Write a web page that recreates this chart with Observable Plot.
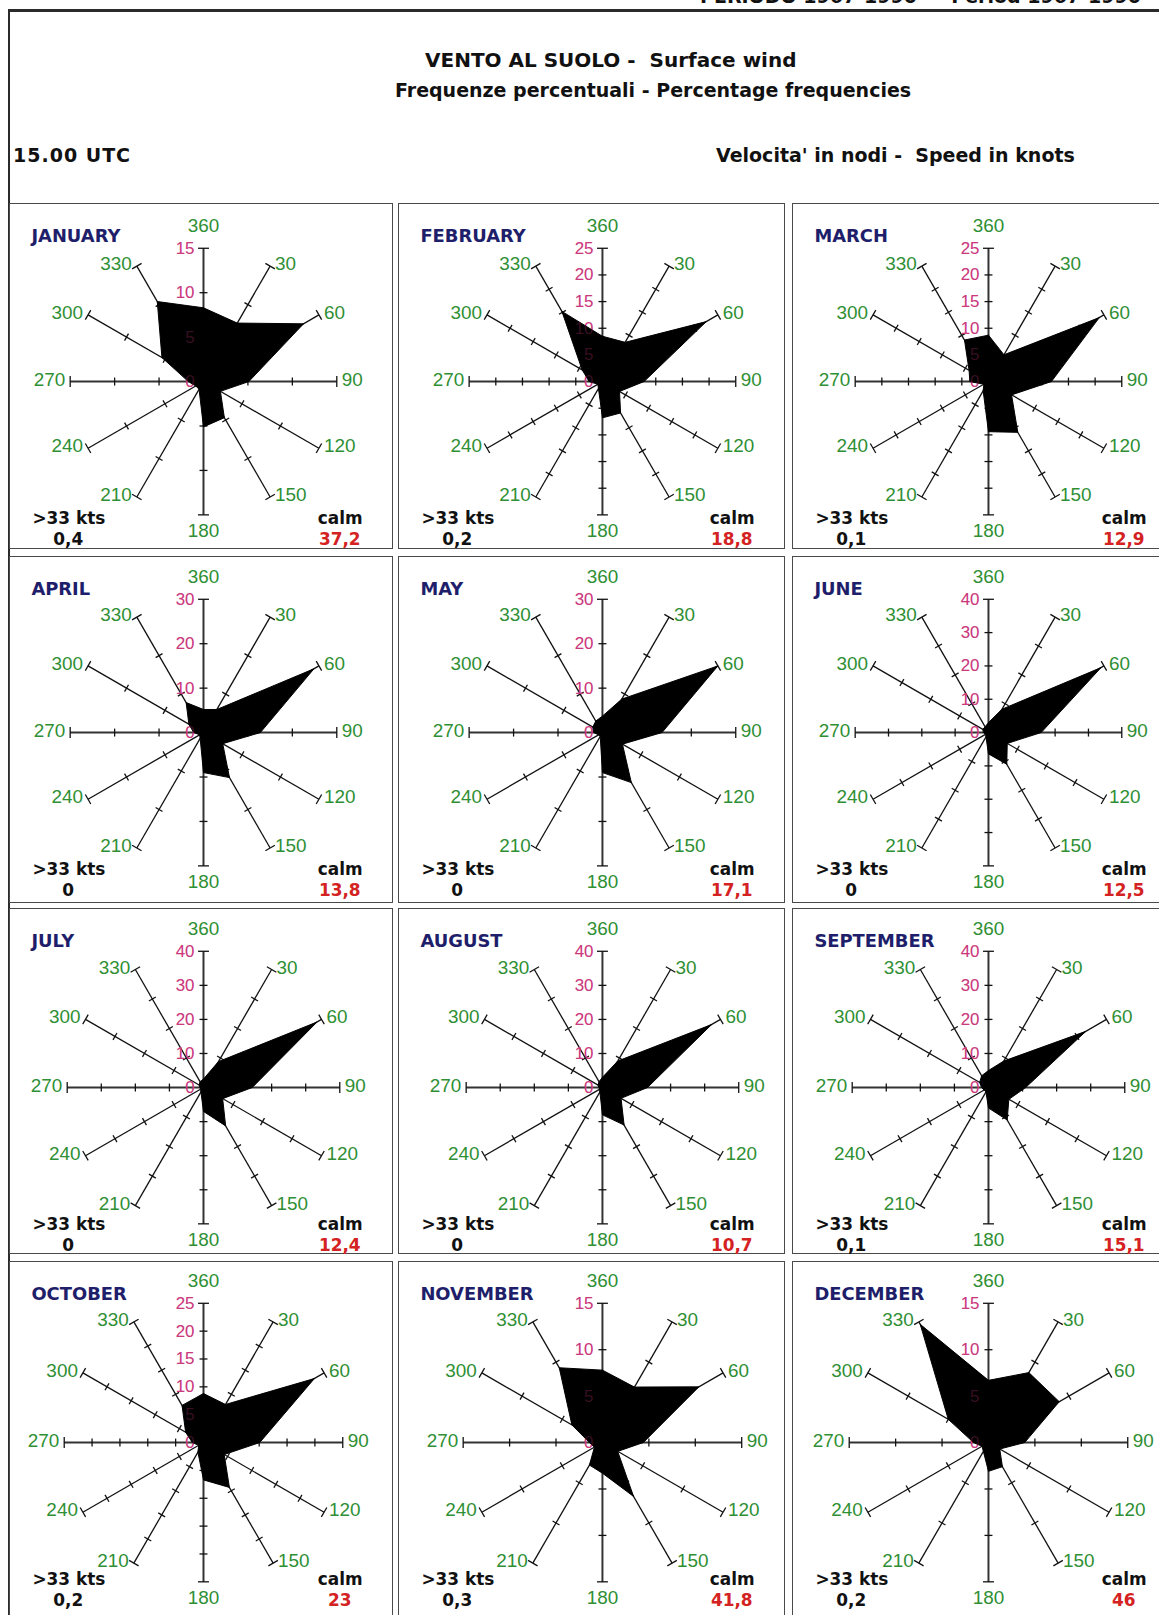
<!DOCTYPE html>
<html>
<head>
<meta charset="utf-8">
<script src="https://cdn.jsdelivr.net/npm/d3@7"></script>
<script src="https://cdn.jsdelivr.net/npm/@observablehq/plot@0.6"></script>
<style>
html,body{margin:0;padding:0;background:#fff;}
#page{position:relative;width:1159px;height:1615px;overflow:hidden;background:#fff;}
.hdr{position:absolute;font-family:"DejaVu Sans",sans-serif;font-weight:bold;font-size:19px;color:#111;white-space:pre;line-height:1;}
.line{position:absolute;background:#2b2b2b;}
.panel{position:absolute;box-sizing:border-box;border:1.5px solid #4a4a4a;}
.panel svg{position:absolute;left:0;top:0;}
</style>
</head>
<body>
<div id="page"></div>
<script>
// ---------------- data ----------------
const months = ["JANUARY","FEBRUARY","MARCH","APRIL","MAY","JUNE","JULY","AUGUST","SEPTEMBER","OCTOBER","NOVEMBER","DECEMBER"];
const directions = [0,30,60,90,120,150,180,210,240,270,300,330];
const directionLabels = ["360","30","60","90","120","150","180","210","240","270","300","330"];
const scaleMax = [15,25,25,30,30,40,40,40,40,25,15,15];
// percentage frequencies by direction (360,30,...,330)
const freqJan = [8.3, 7.6, 13.0, 5.1, 2.2, 4.7, 5.1, 1.0, 1.0, 1.7, 5.4, 10.4];
const freqFeb = [8.5, 8.5, 22.5, 7.8, 3.7, 6.8, 6.8, 1.5, 1.0, 2.5, 4.4, 15.2];
const freqMar = [8.7, 5.8, 24.0, 11.8, 5.0, 11.0, 9.4, 2.0, 1.0, 3.5, 4.2, 9.0];
const freqApr = [5.2, 6.0, 28.7, 12.8, 5.0, 11.7, 9.0, 1.5, 1.0, 2.2, 3.8, 7.8];
const freqMay = [3.7, 8.7, 30.0, 13.4, 5.2, 13.0, 9.0, 1.0, 1.0, 2.0, 2.5, 3.0];
const freqJun = [3.0, 8.1, 39.0, 15.8, 6.5, 11.0, 6.4, 1.5, 1.0, 1.5, 2.0, 2.0];
const freqJul = [2.5, 8.8, 38.5, 14.3, 6.5, 13.0, 7.0, 1.5, 1.0, 1.0, 1.5, 2.0];
const freqAug = [3.0, 9.0, 37.0, 13.2, 6.3, 12.7, 8.0, 1.5, 1.0, 1.0, 1.5, 2.0];
const freqSep = [5.0, 9.0, 33.0, 10.9, 6.9, 11.0, 6.0, 1.5, 1.5, 2.0, 3.0, 4.0];
const freqOct = [8.8, 7.9, 23.0, 10.1, 4.3, 9.3, 6.7, 2.0, 1.0, 2.0, 3.7, 7.7];
const freqNov = [7.8, 6.9, 12.0, 4.4, 1.9, 6.7, 3.3, 2.8, 1.0, 1.4, 3.8, 9.3];
const freqDec = [6.7, 8.7, 8.8, 3.9, 1.4, 3.0, 3.1, 1.1, 0.8, 1.6, 5.0, 14.7];
const over33 = ["0,4","0,2","0,1","0","0","0","0","0","0,1","0,2","0,3","0,2"];
const calm = ["37,2","18,8","12,9","13,8","17,1","12,5","12,4","10,7","15,1","23","41,8","46"];

const freqs = [freqJan,freqFeb,freqMar,freqApr,freqMay,freqJun,freqJul,freqAug,freqSep,freqOct,freqNov,freqDec];

// ---------------- layout ----------------
const colX = [9, 398, 792], colW = [384, 387, 385];
const rowY = [203, 556, 908, 1261], rowH = [346, 347, 346, 360];
const centerX = [203, 602, 988], centerY = [381, 732, 1087, 1442];
const spokeR = [134, 134, 137, 140];

const GREEN = "#2f8f34", MAGENTA = "#cc3a7e", NAVY = "#1e1e6a", RED = "#d42222";
const page = document.getElementById("page");

function addDiv(cls, css, text){
  const d = document.createElement("div");
  d.className = cls;
  Object.assign(d.style, css);
  if (text != null) d.textContent = text;
  page.appendChild(d);
  return d;
}

// frame lines
addDiv("line", {left:"8px", top:"9px", width:"1151px", height:"3px"});
addDiv("line", {left:"8px", top:"9px", width:"2px", height:"1606px"});

// header texts
addDiv("hdr", {left:"700px", top:"-13px"}, "PERIODO 1967-1990  -  Period 1967-1990");
addDiv("hdr", {left:"425px", top:"50px", fontSize:"20px"}, "VENTO AL SUOLO -  Surface wind");
addDiv("hdr", {left:"395px", top:"81px"}, "Frequenze percentuali - Percentage frequencies");
addDiv("hdr", {left:"13px", top:"146px", letterSpacing:"1px"}, "15.00 UTC");
addDiv("hdr", {left:"716px", top:"146px"}, "Velocita' in nodi -  Speed in knots");

const rad = d => d * Math.PI / 180;

function rose(i){
  const col = i % 3, row = Math.floor(i / 3);
  const pw = colW[col], ph = rowH[row];
  const cx = centerX[col] - colX[col], cy = centerY[row] - rowY[row];
  const R = spokeR[row], m = scaleMax[i], f = freqs[i];
  const step = m >= 30 ? 10 : 5;
  const u = m / R;

  const spokes = directions.map(d => ({d, x2: m*Math.sin(rad(d)), y2: m*Math.cos(rad(d))}));
  const ticks = directions.flatMap(d => {
    const s = Math.sin(rad(d)), c = Math.cos(rad(d));
    return d3.range(step, m + 1e-9, step).map(t => {
      const h = (Math.abs(t - m) < 1e-9 ? 5.5 : 4) * u;
      return {x1: t*s + h*c, y1: t*c - h*s, x2: t*s - h*c, y2: t*c + h*s};
    });
  });
  const rLabels = d3.range(0, m + 1e-9, step);
  const poly = directions.map((d, k) => ({x: f[k]*Math.sin(rad(d)), y: f[k]*Math.cos(rad(d))}));
  poly.push(poly[0]);
  const labs = directions.map((d, k) => ({d, text: directionLabels[k], x: m*Math.sin(rad(d)), y: m*Math.cos(rad(d))}));

  const lblOpts = {x: "x", y: "y", text: "text", fill: GREEN, fontSize: 19, fontFamily: "Liberation Sans, Arial, sans-serif"};
  const boldFont = "DejaVu Sans, sans-serif";

  const svg = Plot.plot({
    width: pw, height: ph, margin: 0,
    axis: null,
    x: {domain: [-m, m], range: [cx - R, cx + R]},
    y: {domain: [-m, m], range: [cy + R, cy - R]},
    style: {background: "transparent", overflow: "visible"},
    marks: [
      Plot.link(spokes.filter(s => s.d % 90 !== 0), {x1: () => 0, y1: () => 0, x2: "x2", y2: "y2", stroke: "#111", strokeWidth: 1.3}),
      Plot.link(spokes.filter(s => s.d % 90 === 0), {x1: () => 0, y1: () => 0, x2: "x2", y2: "y2", stroke: "#333", strokeWidth: 2}),
      Plot.link(ticks, {x1: "x1", y1: "y1", x2: "x2", y2: "y2", stroke: "#111", strokeWidth: 1.3}),
      Plot.text(rLabels, {x: () => 0, y: d => d, text: d => String(d), dx: -9, textAnchor: "end", fill: MAGENTA, fontSize: 17, fontFamily: "Liberation Sans, Arial, sans-serif"}),
      Plot.line(poly, {x: "x", y: "y", fill: "#000", stroke: "#000", strokeWidth: 1}),
      Plot.text(rLabels, {x: () => 0, y: d => d, text: d => String(d), dx: -9, textAnchor: "end", fill: MAGENTA, fillOpacity: 0.28, fontSize: 17, fontFamily: "Liberation Sans, Arial, sans-serif"}),
      Plot.text(labs.filter(l => l.d > 0 && l.d < 180), {...lblOpts, dx: 5, dy: -2, textAnchor: "start"}),
      Plot.text(labs.filter(l => l.d > 180), {...lblOpts, dx: -5, dy: -2, textAnchor: "end"}),
      Plot.text(labs.filter(l => l.d === 0), {...lblOpts, dy: -22, textAnchor: "middle"}),
      Plot.text(labs.filter(l => l.d === 180), {...lblOpts, dy: 16, textAnchor: "middle"}),
      Plot.text([months[i]], {frameAnchor: "top-left", dx: 21, dy: 25, text: d => d, textAnchor: "start", fill: NAVY, fontSize: 18, fontWeight: "bold", fontFamily: boldFont}),
      Plot.text([">33 kts"], {frameAnchor: "top-left", dx: 22, dy: cy + 131, text: d => d, textAnchor: "start", fill: "#111", fontSize: 17, fontWeight: "bold", fontFamily: boldFont}),
      Plot.text([over33[i]], {frameAnchor: "top-left", dx: 58, dy: cy + 152, text: d => d, textAnchor: "middle", fill: "#111", fontSize: 17, fontWeight: "bold", fontFamily: boldFont}),
      Plot.text(["calm"], {frameAnchor: "top-right", dx: -30, dy: cy + 131, text: d => d, textAnchor: "end", fill: "#111", fontSize: 17, fontWeight: "bold", fontFamily: boldFont}),
      Plot.text([calm[i]], {frameAnchor: "top-right", dx: -53, dy: cy + 152, text: d => d, textAnchor: "middle", fill: RED, fontSize: 17, fontWeight: "bold", fontFamily: boldFont})
    ]
  });

  const box = addDiv("panel", {left: colX[col] + "px", top: rowY[row] + "px", width: pw + "px", height: ph + "px"});
  box.appendChild(svg);
}

for (let i = 0; i < 12; i++) rose(i);
</script>
</body>
</html>
